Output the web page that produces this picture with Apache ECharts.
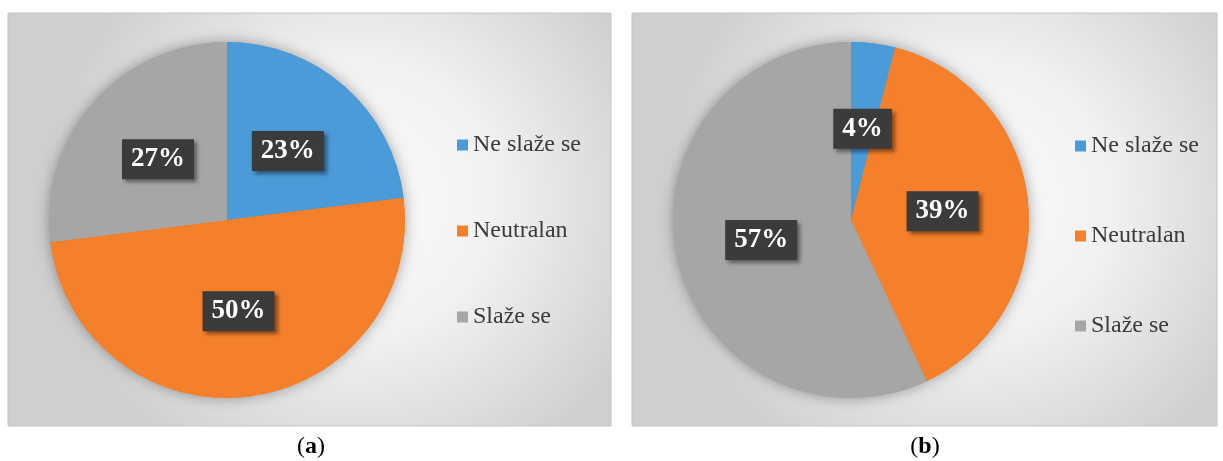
<!DOCTYPE html>
<html>
<head>
<meta charset="utf-8">
<script src="https://cdn.jsdelivr.net/npm/echarts@6/dist/echarts.min.js"></script>
<style>
    html, body { margin: 0; padding: 0; background: #fff; }
    #chart { width: 1223px; height: 461px; }
</style>
</head>
<body>
<div id="chart"></div>
<script>
    var categories = ['Ne slaže se', 'Neutralan', 'Slaže se'];
    var valuesA = [23, 50, 27];
    var valuesB = [4, 39, 57];
    var colors = ['#4b9bd8', '#f5802b', '#a6a6a6'];
    var serif = '"Liberation Serif", "Times New Roman", serif';

    function pieData(vals) {
        var data = [];
        for (var i = 0; i < categories.length; i++) {
            data.push({ value: vals[i], name: categories[i] });
        }
        return data;
    }

    function panelFill() {
        return {
            type: 'radial', x: 0.58, y: 0.45, r: 0.75,
            colorStops: [
                { offset: 0, color: '#fbfbfb' },
                { offset: 0.45, color: '#f1f1f1' },
                { offset: 1, color: '#cfcfcf' }
            ]
        };
    }

    var labelStyle = {
        show: true,
        position: 'inside',
        formatter: '{c}%',
        color: '#fff',
        fontFamily: serif,
        fontWeight: 'bold',
        fontSize: 27,
        lineHeight: 30,
        backgroundColor: '#3b3b3b',
        padding: [5, 9],
        shadowColor: 'rgba(0,0,0,0.45)',
        shadowBlur: 4,
        shadowOffsetX: 3,
        shadowOffsetY: 3
    };

    function pieSeries(vals, cx) {
        return [{
            // shadow underlay
            type: 'pie',
            silent: true,
            z: 1,
            center: [cx, 220],
            radius: 178,
            label: { show: false },
            labelLine: { show: false },
            itemStyle: { shadowColor: 'rgba(0,0,0,0.35)', shadowBlur: 14 },
            data: pieData(vals)
        }, {
            type: 'pie',
            z: 2,
            center: [cx, 220],
            radius: 178,
            label: labelStyle,
            labelLine: { show: false },
            emphasis: { scale: false },
            data: pieData(vals)
        }];
    }

    function legend(left, top, gap) {
        return {
            orient: 'vertical',
            left: left,
            top: top,
            itemWidth: 11,
            itemHeight: 11,
            itemGap: gap,
            icon: 'rect',
            data: categories,
            textStyle: {
                fontFamily: serif,
                fontSize: 24,
                lineHeight: 24,
                color: '#3a3a3a'
            }
        };
    }

    var chart = echarts.init(document.getElementById('chart'));
    chart.setOption({
        animation: false,
        color: colors,
        legend: [legend(452, 128, 62), legend(1070, 129, 66)],
        graphic: [
            { type: 'rect', z: -10, shape: { x: 8, y: 13, width: 603, height: 413 },
              style: { fill: panelFill(), stroke: '#c4c4c4', lineWidth: 1 } },
            { type: 'rect', z: -10, shape: { x: 632, y: 13, width: 585, height: 413 },
              style: { fill: panelFill(), stroke: '#c4c4c4', lineWidth: 1 } },
            { type: 'text', x: 311, y: 447,
              style: { text: '({b|a})', textAlign: 'center', textVerticalAlign: 'middle',
                       font: '24px "Liberation Serif"', fill: '#000',
                       rich: { b: { fontWeight: 'bold', fontSize: 24, fontFamily: serif } } } },
            { type: 'text', x: 925, y: 447,
              style: { text: '({b|b})', textAlign: 'center', textVerticalAlign: 'middle',
                       font: '24px "Liberation Serif"', fill: '#000',
                       rich: { b: { fontWeight: 'bold', fontSize: 24, fontFamily: serif } } } }
        ],
        series: pieSeries(valuesA, 227).concat(pieSeries(valuesB, 851))
    });
</script>
</body>
</html>
